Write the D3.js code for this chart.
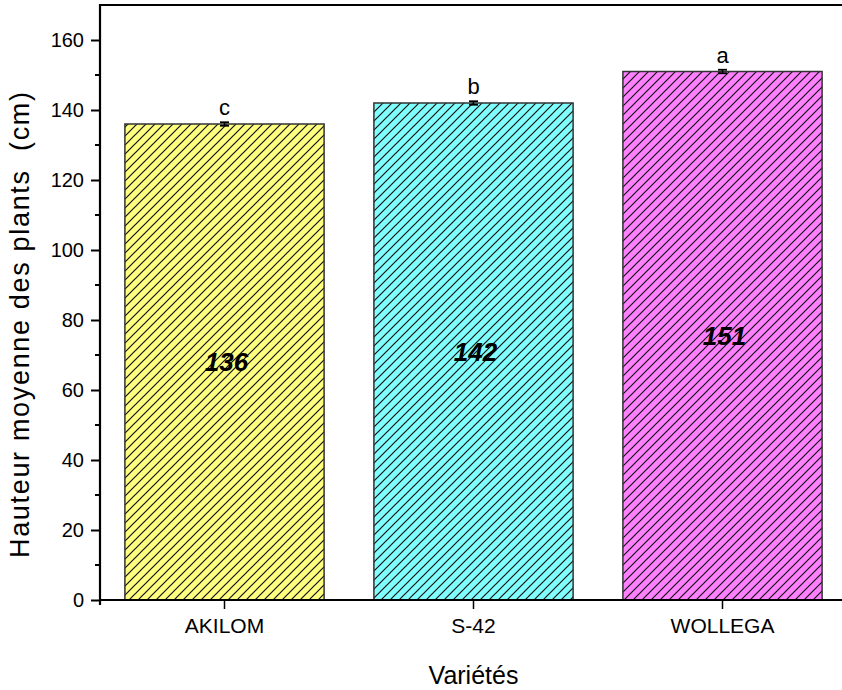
<!DOCTYPE html>
<html>
<head>
<meta charset="utf-8">
<script src="https://cdn.jsdelivr.net/npm/d3@7"></script>
<style>
  body { margin: 0; background: #fff; }
  svg { display: block; font-family: Arial, "Liberation Sans", sans-serif; }
</style>
</head>
<body>
<div class="svg-target"></div>
<script>
// data
const varietes = ['AKILOM', 'S-42', 'WOLLEGA'];
const hauteurs = [136, 142, 151];
const erreurs = [0.5, 0.5, 0.5];
const lettres = ['c', 'b', 'a'];
const couleurs = ['#ffff80', '#80ffff', '#ff80ff'];
const yTicks = [0, 20, 40, 60, 80, 100, 120, 140, 160];

const w = 842;
const h = 690;
const padLeft = 100, padRight = 847, padTop = 5, padBottom = 600;

const svg = d3.select('.svg-target')
    .append('svg')
    .attr('width', w)
    .attr('height', h);

// hatch patterns, one per colour
const hs = 9;
const defs = svg.append('defs');
couleurs.forEach((c, i) => {
    const p = defs.append('pattern')
        .attr('id', 'hatch' + i)
        .attr('patternUnits', 'userSpaceOnUse')
        .attr('width', hs)
        .attr('height', hs);
    p.append('rect').attr('width', hs).attr('height', hs).attr('fill', c);
    p.append('path')
        .attr('d', `M-2,2 l4,-4 M0,${hs} l${hs},-${hs} M${hs - 2},${hs + 2} l4,-4`)
        .attr('stroke', '#111')
        .attr('stroke-width', 1.2);
});

const x = d3.scaleBand()
    .domain(varietes)
    .range([padLeft, padRight])
    .paddingInner(0.2)
    .paddingOuter(0.1);

const y = d3.scaleLinear()
    .domain([0, 170])
    .range([padBottom, padTop]);

// bars
svg.selectAll('rect.bar')
    .data(hauteurs)
    .enter()
    .append('rect')
        .attr('class', 'bar')
        .attr('x', (d, i) => x(varietes[i]))
        .attr('y', d => y(d))
        .attr('width', x.bandwidth())
        .attr('height', d => y(0) - y(d))
        .attr('fill', (d, i) => `url(#hatch${i})`)
        .attr('stroke', '#333')
        .attr('stroke-width', 1.5);

// error bars
const eb = svg.selectAll('g.err')
    .data(hauteurs)
    .enter()
    .append('g')
    .attr('class', 'err')
    .attr('transform', (d, i) => `translate(${x(varietes[i]) + x.bandwidth() / 2},0)`);
eb.append('line')
    .attr('y1', (d, i) => y(d - erreurs[i]))
    .attr('y2', (d, i) => y(d + erreurs[i]))
    .attr('stroke', '#000').attr('stroke-width', 1.5);
eb.append('line')
    .attr('x1', -4.5).attr('x2', 4.5)
    .attr('y1', (d, i) => y(d + erreurs[i]))
    .attr('y2', (d, i) => y(d + erreurs[i]))
    .attr('stroke', '#000').attr('stroke-width', 1.8);
eb.append('line')
    .attr('x1', -4.5).attr('x2', 4.5)
    .attr('y1', (d, i) => y(d - erreurs[i]))
    .attr('y2', (d, i) => y(d - erreurs[i]))
    .attr('stroke', '#000').attr('stroke-width', 1.8);

// significance letters
eb.append('text')
    .attr('y', (d, i) => y(d + erreurs[i]) - 7)
    .attr('text-anchor', 'middle')
    .attr('font-size', 22)
    .text((d, i) => lettres[i]);

// value labels
eb.append('text')
    .attr('x', 2)
    .attr('y', d => y(d / 2))
    .attr('dy', '0.35em')
    .attr('text-anchor', 'middle')
    .attr('font-size', 26)
    .attr('font-weight', 'bold')
    .attr('font-style', 'italic')
    .text(d => d);

// y axis
const yAxis = d3.axisLeft(y)
    .tickValues(yTicks)
    .tickSize(9)
    .tickPadding(7);
const gy = svg.append('g')
    .attr('transform', `translate(${padLeft},0)`)
    .call(yAxis);
gy.select('.domain').remove();
gy.selectAll('.tick line').attr('stroke-width', 2);
gy.selectAll('.tick text').attr('font-size', 20).attr('font-family', 'Arial, "Liberation Sans", sans-serif');

// minor ticks
svg.append('g')
    .selectAll('line')
    .data(d3.range(10, 170, 20))
    .enter()
    .append('line')
        .attr('x1', padLeft - 5).attr('x2', padLeft)
        .attr('y1', d => y(d)).attr('y2', d => y(d))
        .attr('stroke', '#000').attr('stroke-width', 2);

// x axis
const xAxis = d3.axisBottom(x).tickSize(9).tickPadding(9);
const gx = svg.append('g')
    .attr('transform', `translate(0,${padBottom})`)
    .call(xAxis);
gx.select('.domain').remove();
gx.selectAll('.tick line').attr('stroke-width', 1.5);
gx.selectAll('.tick text').attr('font-size', 21).attr('font-family', 'Arial, "Liberation Sans", sans-serif');

// frame
svg.append('line')
    .attr('x1', padLeft).attr('x2', padLeft).attr('y1', padTop - 1).attr('y2', padBottom + 5)
    .attr('stroke', '#000').attr('stroke-width', 2.2);
svg.append('line')
    .attr('x1', padLeft - 1).attr('x2', w).attr('y1', padBottom).attr('y2', padBottom)
    .attr('stroke', '#000').attr('stroke-width', 2.2);
svg.append('line')
    .attr('x1', padLeft - 1).attr('x2', w).attr('y1', padTop).attr('y2', padTop)
    .attr('stroke', '#000').attr('stroke-width', 2.2);

// axis titles
svg.append('text')
    .attr('transform', `translate(29,325) rotate(-90)`)
    .attr('text-anchor', 'middle')
    .attr('font-size', 27)
    .attr('textLength', 466)
    .attr('lengthAdjust', 'spacing')
    .style('white-space', 'pre')
    .text('Hauteur moyenne des plants  (cm)');

svg.append('text')
    .attr('x', (padLeft + padRight) / 2)
    .attr('y', 684)
    .attr('text-anchor', 'middle')
    .attr('font-size', 25)
    .text('Variétés');
</script>
</body>
</html>
